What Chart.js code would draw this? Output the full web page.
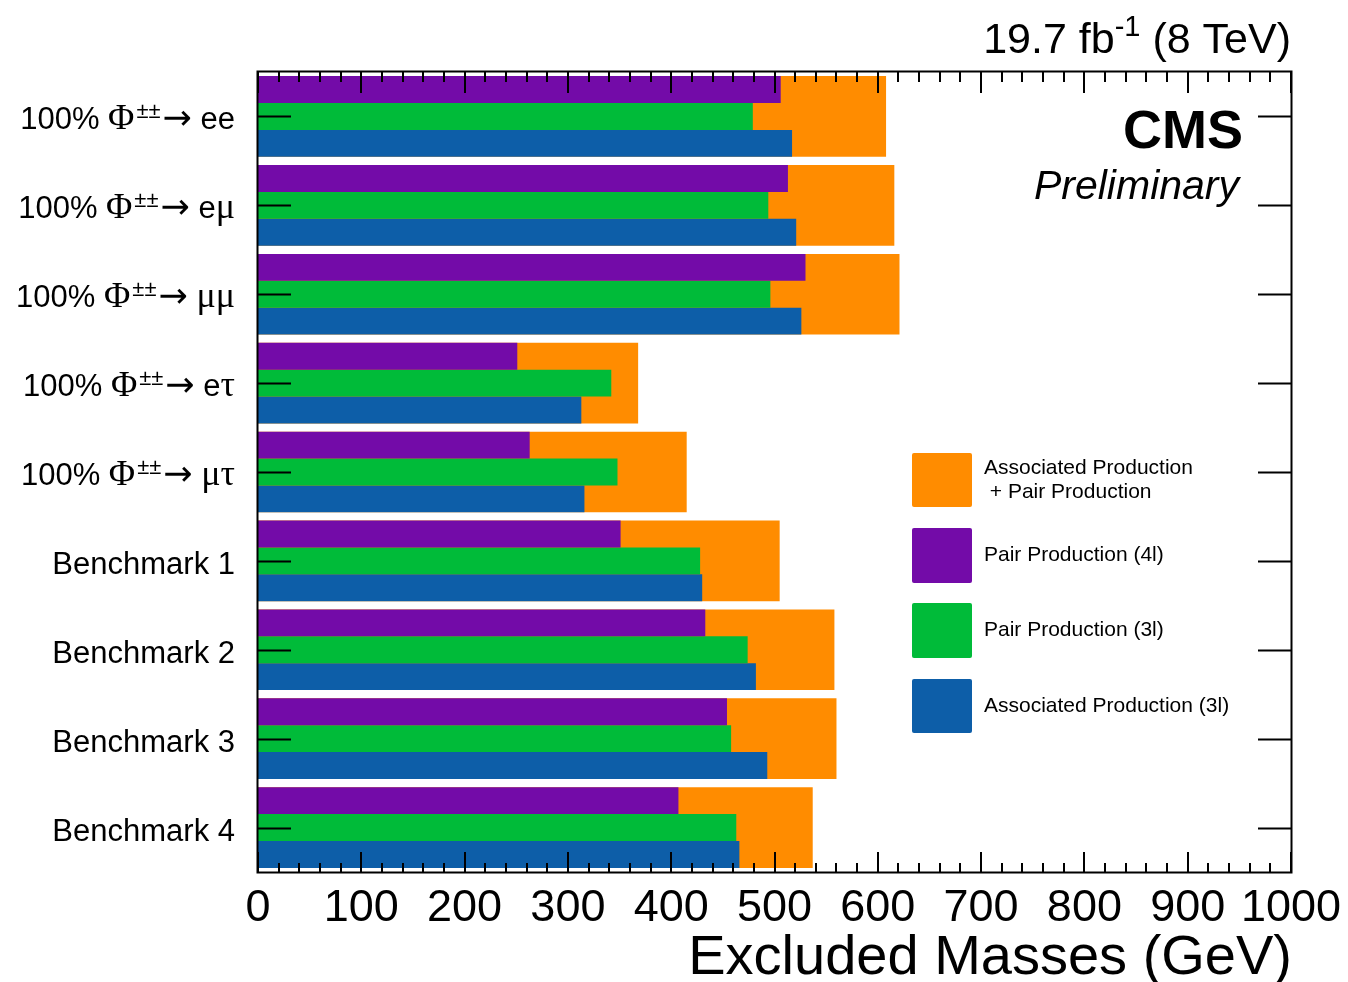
<!DOCTYPE html>
<html>
<head>
<meta charset="utf-8">
<script src="https://cdn.jsdelivr.net/npm/chart.js@4.4.0/dist/chart.umd.min.js"></script>
<style>
  html, body { margin: 0; padding: 0; background: #ffffff; }
  #wrap { width: 1348px; height: 982px; position: relative; }
  canvas { display: block; }
</style>
</head>
<body>
<div id="wrap"><canvas id="c" width="1348" height="982"></canvas></div>
<script>
// Decay channels / benchmark scenarios (top to bottom). ^{...} marks a superscript.
const categories = [
  '100% Φ^{±±}→ ee',
  '100% Φ^{±±}→ eμ',
  '100% Φ^{±±}→ μμ',
  '100% Φ^{±±}→ eτ',
  '100% Φ^{±±}→ μτ',
  'Benchmark 1',
  'Benchmark 2',
  'Benchmark 3',
  'Benchmark 4'
];

// Excluded masses in GeV
const combined = [608, 616, 621, 368, 415, 505, 558, 560, 537]; // associated + pair production
const pair4l   = [506, 513, 530, 251, 263, 351, 433, 454, 407];
const pair3l   = [479, 494, 496, 342, 348, 428, 474, 458, 463];
const assoc3l  = [517, 521, 526, 313, 316, 430, 482, 493, 466];

const xTickValues = [0, 100, 200, 300, 400, 500, 600, 700, 800, 900, 1000];
const xMinorStep = 20;

const seriesLabels = [
  ['Associated Production', ' + Pair Production'],
  ['Pair Production (4l)'],
  ['Pair Production (3l)'],
  ['Associated Production (3l)']
];

const ORANGE = '#FF8C00';
const PURPLE = '#730BA8';
const GREEN  = '#00BB39';
const BLUE   = '#0D5EA8';

const SANS = '"Liberation Sans", Arial, Helvetica, sans-serif';
const SERIF = '"Liberation Serif", "Times New Roman", serif';
const ARROWFONT = '"DejaVu Sans", sans-serif';

// Splits a label into runs: plain text, ^{...} superscripts, Greek letters (serif) and arrows.
function richSegments(text) {
  const segs = [];
  const re = /\^\{([^}]*)\}/g;
  let last = 0, m;
  while ((m = re.exec(text)) !== null) {
    if (m.index > last) segs.push({ t: text.slice(last, m.index), sup: false });
    segs.push({ t: m[1], sup: true });
    last = re.lastIndex;
  }
  if (last < text.length) segs.push({ t: text.slice(last), sup: false });
  const runs = [];
  for (const s of segs) {
    const parts = s.t.match(/[\u0370-\u03FF]+|\u2192|[^\u0370-\u03FF\u2192]+/g) || [];
    for (const p of parts) {
      runs.push({
        t: p, sup: s.sup,
        greek: /[\u0370-\u03FF]/.test(p),
        arrow: p === '\u2192'
      });
    }
  }
  return runs;
}

function runFont(r, size, supScale) {
  let sz = r.sup ? size * supScale : size;
  if (r.greek) sz *= 1.15;
  if (r.arrow) sz *= 1.12;
  const fam = r.arrow ? ARROWFONT : (r.greek ? SERIF : SANS);
  return Math.round(sz) + 'px ' + fam;
}

function drawRich(ctx, text, xRight, baseline, size, supScale, supRaise, supGap) {
  const runs = richSegments(text);
  let total = 0;
  for (const r of runs) {
    ctx.font = runFont(r, size, supScale);
    r.w = ctx.measureText(r.t).width + (r.sup ? supGap : 0);
    total += r.w;
  }
  let x = xRight - total;
  ctx.textAlign = 'left';
  ctx.textBaseline = 'alphabetic';
  for (const r of runs) {
    ctx.font = runFont(r, size, supScale);
    ctx.fillText(r.t, x + (r.sup ? supGap / 2 : 0), r.sup ? baseline - size * supRaise : baseline);
    x += r.w;
  }
}

const decor = {
  id: 'decor',
  afterDatasetsDraw(chart) {
    const ctx = chart.ctx;
    const area = chart.chartArea;
    const xs = chart.scales.x;
    const ys = chart.scales.y;
    ctx.save();
    ctx.fillStyle = '#000';
    ctx.strokeStyle = '#000';

    // x ticks (inside, top and bottom)
    ctx.lineWidth = 2;
    for (let v = 0; v <= 1000; v += xMinorStep) {
      const px = Math.round(xs.getPixelForValue(v));
      const major = v % 100 === 0;
      const lenTop = major ? 21 : 10;
      const lenBot = major ? 20 : 9;
      ctx.beginPath();
      ctx.moveTo(px, area.top); ctx.lineTo(px, area.top + lenTop);
      ctx.moveTo(px, area.bottom); ctx.lineTo(px, area.bottom - lenBot);
      ctx.stroke();
    }

    // y ticks at category centres (left and right)
    categories.forEach((c, i) => {
      const py = Math.round(ys.getPixelForValue(i)) + 0.5;
      ctx.beginPath();
      ctx.moveTo(area.left, py); ctx.lineTo(area.left + 33, py);
      ctx.moveTo(area.right, py); ctx.lineTo(area.right - 33, py);
      ctx.stroke();
    });

    // frame
    ctx.lineWidth = 2;
    ctx.strokeRect(area.left - 0.5, area.top - 0.5, area.right - area.left + 1, area.bottom - area.top + 1);

    // category labels
    categories.forEach((c, i) => {
      const py = ys.getPixelForValue(i);
      drawRich(ctx, c, 235, py + 13, 31, 0.72, 0.36, 4);
    });

    // x tick labels
    ctx.font = '45px ' + SANS;
    ctx.textAlign = 'center';
    ctx.textBaseline = 'alphabetic';
    xTickValues.forEach(v => {
      ctx.fillText(String(v), xs.getPixelForValue(v), 921);
    });

    // x axis title
    ctx.font = '56px ' + SANS;
    ctx.textAlign = 'right';
    ctx.fillText('Excluded Masses (GeV)', area.right + 1, 974);

    // luminosity / energy
    drawRich(ctx, '19.7 fb^{-1} (8 TeV)', 1291, 53, 43, 0.68, 0.4, 0);

    // CMS label
    ctx.textAlign = 'right';
    ctx.font = 'bold 54px ' + SANS;
    ctx.fillText('CMS', 1243, 148);
    ctx.font = 'italic 41px ' + SANS;
    ctx.fillText('Preliminary', 1239, 199);

    // legend
    const boxes = [[453, 507], [528, 583], [603, 658], [679, 733]];
    chart.data.datasets.forEach((ds, i) => {
      const [y0, y1] = boxes[i];
      ctx.fillStyle = ds.backgroundColor;
      ctx.beginPath();
      if (ctx.roundRect) ctx.roundRect(912, y0, 60, y1 - y0, 2); else ctx.rect(912, y0, 60, y1 - y0);
      ctx.fill();
      ctx.fillStyle = '#000';
      ctx.font = '21px ' + SANS;
      ctx.textAlign = 'left';
      ctx.textBaseline = 'middle';
      const lines = seriesLabels[i];
      const mid = (y0 + y1) / 2;
      lines.forEach((ln, k) => {
        const yy = lines.length === 1 ? mid : mid - 12 + k * 24;
        ctx.fillText(ln, 984, yy);
      });
    });
    ctx.restore();
  }
};

new Chart(document.getElementById('c').getContext('2d'), {
  type: 'bar',
  data: {
    labels: categories,
    datasets: [
      { label: seriesLabels[0].join(''), data: combined, backgroundColor: ORANGE, grouped: false, order: 2 },
      { label: seriesLabels[1][0], data: pair4l, backgroundColor: PURPLE, order: 1 },
      { label: seriesLabels[2][0], data: pair3l, backgroundColor: GREEN, order: 1 },
      { label: seriesLabels[3][0], data: assoc3l, backgroundColor: BLUE, order: 1 }
    ]
  },
  options: {
    indexAxis: 'y',
    responsive: false,
    animation: false,
    events: [],
    layout: { padding: { left: 258, right: 57, top: 72, bottom: 110 } },
    datasets: { bar: { categoryPercentage: 0.9075, barPercentage: 1, borderWidth: 0 } },
    scales: {
      x: { type: 'linear', min: 0, max: 1000, display: false },
      y: { type: 'category', offset: true, display: false }
    },
    plugins: { legend: { display: false }, tooltip: { enabled: false } }
  },
  plugins: [decor]
});
</script>
</body>
</html>
